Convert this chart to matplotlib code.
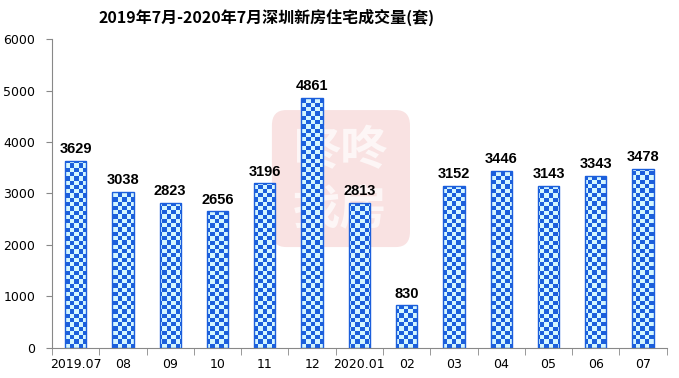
import numpy as np
import matplotlib.pyplot as plt
from matplotlib.colors import ListedColormap
from matplotlib.patches import FancyBboxPatch

plt.rcParams['font.family'] = ['Noto Sans CJK SC', 'DejaVu Sans']

months = ["2019.07", "08", "09", "10", "11", "12", "2020.01",
          "02", "03", "04", "05", "06", "07"]
volumes = [3629, 3038, 2823, 2656, 3196, 4861, 2813,
           830, 3152, 3446, 3143, 3343, 3478]

fig = plt.figure(figsize=(6.79, 3.78), dpi=100)
ax = fig.add_axes([0.0766, 0.0794, 0.9054, 0.8174])

x = np.arange(len(months))
bars = ax.bar(x, volumes, width=0.45, facecolor="none",
              edgecolor="#1b5fdc", linewidth=1.0, zorder=3)

# checkerboard texture clipped to each bar
nx, ny = 140, 72
cb = (np.indices((ny, nx)).sum(axis=0) % 2)
cmap = ListedColormap(["#d4f6ff", "#1b5fdc"])
for b in bars:
    im = ax.imshow(cb, cmap=cmap, extent=(-0.5, 12.5, 0, 6000),
                   aspect="auto", interpolation="nearest", zorder=2)
    im.set_clip_path(b)

for xi, v in zip(x, volumes):
    ax.text(xi, v + 90, str(v), ha="center", va="bottom",
            fontsize=10.5, fontweight="bold", family="Liberation Sans", zorder=4)

# faint watermark behind the bars
wm = FancyBboxPatch((4.15, 1960), 2.92, 2660,
                    boxstyle="round,pad=0,rounding_size=0.3",
                    mutation_aspect=1000, facecolor="#f9e2e2",
                    edgecolor="none", zorder=1)
ax.add_patch(wm)
ax.text(5.6, 3830, "咚咚", ha="center", va="center", fontsize=34,
        color="#fdf6f6", fontweight="bold", zorder=1.5)
ax.text(5.6, 2700, "找房", ha="center", va="center", fontsize=34,
        color="#fdf6f6", fontweight="bold", zorder=1.5)

ax.set_xlim(-0.5, 12.5)
ax.set_ylim(0, 6000)
ax.set_yticks(range(0, 6001, 1000))
ax.set_xticks(x)
ax.set_xticklabels(months, fontsize=9, family="DejaVu Sans")
ax.set_xticks(np.arange(-0.5, 13, 1), minor=True)
ax.tick_params(axis="x", which="major", length=0, pad=7)
ax.tick_params(axis="x", which="minor", length=5, color="#888888", direction="out")
ax.tick_params(axis="y", length=4, color="#888888", labelsize=9, pad=8)
for lab in ax.get_yticklabels():
    lab.set_family("DejaVu Sans")

for s in ["top", "right"]:
    ax.spines[s].set_visible(False)
ax.spines["left"].set_color("#888888")
ax.spines["bottom"].set_color("#888888")

fig.text(0.392, 0.955, "2019年7月-2020年7月深圳新房住宅成交量(套)",
         ha="center", va="center", fontsize=11.5, fontweight="bold")

fig.savefig("out.png", dpi=100)
